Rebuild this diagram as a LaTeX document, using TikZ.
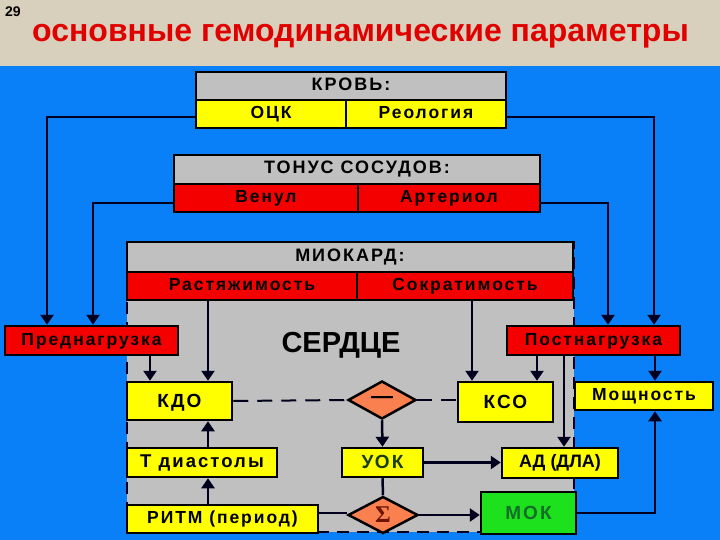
\documentclass[tikz,border=0pt]{standalone}
\usepackage{fontspec}
\setmainfont{Liberation Sans}
\newfontfamily\sigmafont{Liberation Serif}
\newfontfamily\spacedfont[LetterSpace=11]{Liberation Sans}
\usetikzlibrary{arrows.meta,shapes.geometric}
\definecolor{beige}{RGB}{216,208,188}
\definecolor{bgblue}{RGB}{10,128,248}
\definecolor{panelgray}{RGB}{192,192,192}
\definecolor{boxyellow}{RGB}{255,255,0}
\definecolor{boxred}{RGB}{245,0,0}
\definecolor{coral}{RGB}{250,128,80}
\definecolor{mokgreen}{RGB}{30,225,30}
\definecolor{moktext}{RGB}{20,110,40}
\definecolor{uoktext}{RGB}{25,60,25}
\definecolor{titlered}{RGB}{225,0,0}
\definecolor{ink}{RGB}{0,0,30}
\definecolor{sigmared}{RGB}{110,20,0}
\tikzset{
  cell/.style={draw=black, line width=2.5pt, rectangle, inner sep=0pt,
    text height=12.6pt, text depth=3.5pt,
    font=\spacedfont\bfseries\fontsize{17.5}{17.5}\selectfont, text=black},
  bigcell/.style={cell, text height=13.6pt, text depth=0pt,
    font=\spacedfont\bfseries\fontsize{19}{19}\selectfont},
  hdr/.style={cell, fill=panelgray, text height=13pt, text depth=4pt,
    font=\spacedfont\bfseries\fontsize{18}{18}\selectfont},
  ybox/.style={cell, fill=boxyellow},
  rbox/.style={cell, fill=boxred},
  dia/.style={draw=black, line width=2.5pt, diamond, inner sep=0pt, fill=coral},
  conn/.style={draw=ink, line width=2.5pt},
  arr/.style={conn, -{Triangle[length=10pt,width=13pt]}},
  dsh/.style={draw=ink, line width=2pt, dash pattern=on 15pt off 9pt}
}
\begin{document}
\begin{tikzpicture}[x=1pt,y=-1pt]
\path[use as bounding box] (0,0) rectangle (720,540);
\fill[beige] (0,0) rectangle (720,66);
\fill[bgblue] (0,66) rectangle (720,540);
% title
\node[anchor=north west, inner sep=0pt, font=\bfseries\fontsize{14}{14}\selectfont] (num) at (5,7) {29};
\node[anchor=base, inner sep=0pt, text=titlered, font=\bfseries\fontsize{32}{32}\selectfont] (title) at (360.5,42) {основные гемодинамические параметры};
% heart panel
\path[fill=panelgray, draw=ink, line width=2pt, dash pattern=on 12pt off 8pt] (127,242) rectangle (574,532);
\node[anchor=base, inner sep=0pt, font=\bfseries\fontsize{29}{29}\selectfont] (heart) at (341,352) {СЕРДЦЕ};
% blood
\node[hdr, minimum width=310, minimum height=28] (krov) at (351,86) {КРОВЬ:};
\node[ybox, minimum width=150, minimum height=28] (ock) at (271,114) {ОЦК};
\node[ybox, minimum width=160, minimum height=28] (reol) at (426,114) {Реология};
% vessels
\node[hdr, minimum width=366, minimum height=29] (tonus) at (357,169.5) {ТОНУС СОСУДОВ:};
\node[rbox, minimum width=184, minimum height=28] (venul) at (266,198) {Венул};
\node[rbox, minimum width=182, minimum height=28] (arter) at (449,198) {Артериол};
% myocard
\node[hdr, minimum width=446, minimum height=30] (miok) at (350,257) {МИОКАРД:};
\node[rbox, minimum width=230, minimum height=28] (rast) at (242,286) {Растяжимость};
\node[rbox, minimum width=216, minimum height=28] (sokr) at (465,286) {Сократимость};
% loads
\node[rbox, minimum width=173, minimum height=29] (pred) at (91.5,340.5) {Преднагрузка};
\node[rbox, minimum width=173, minimum height=29] (post) at (593.5,340.5) {Постнагрузка};
% heart internals
\node[ybox, bigcell, minimum width=105, minimum height=38] (kdo) at (179.5,401) {КДО};
\node[ybox, minimum width=150, minimum height=29, text height=13.3pt, font=\spacedfont\bfseries\fontsize{18.5}{18.5}\selectfont] (tdiast) at (202,462.5) {Т диастолы};
\node[ybox, minimum width=191, minimum height=28] (ritm) at (222.5,519) {РИТМ (период)};
\node[dia, minimum width=68, minimum height=38] (minus) at (382,400) {\bfseries\fontsize{22}{22}\selectfont —};
\node[ybox, bigcell, text=uoktext, text depth=2pt, minimum width=81, minimum height=29] (uok) at (382.5,462.5) {УОК};
\node[dia, minimum width=70, minimum height=37] (sigma) at (383,515) {\sigmafont\bfseries\fontsize{24}{24}\selectfont\color{sigmared}Σ};
\node[ybox, bigcell, minimum width=95, minimum height=40] (kso) at (505.5,402) {КСО};
\node[ybox, minimum width=116, minimum height=30, text height=13pt, font=\bfseries\fontsize{18}{18}\selectfont] (ad) at (560,463) {АД (ДЛА)};
\node[cell, bigcell, fill=mokgreen, text=moktext, minimum width=95, minimum height=42] (mok) at (528.5,513) {МОК};
\node[ybox, minimum width=138, minimum height=28] (mosch) at (644,396) {Мощность};
% helper coordinates
\coordinate (p1) at ([xshift=-44.5]pred.north);
\coordinate (p2) at ([xshift=1.5]pred.north);
\coordinate (q1) at ([xshift=14.5]post.north);
\coordinate (q2) at ([xshift=60.5]post.north);
\coordinate (k1) at ([xshift=28.5]kdo.north);
\coordinate (k2) at ([xshift=-29.5]kdo.north);
\coordinate (s1) at ([xshift=-33.5]kso.north);
\coordinate (s2) at ([xshift=31.5]kso.north);
\coordinate (a1) at ([xshift=4]ad.north);
\coordinate (m1) at ([xshift=11]mosch.north);
% connectors from top boxes
\draw[arr] ([yshift=-3]ock.west) -| (p1);
\draw[arr] ([yshift=-5]venul.west) -| (p2);
\draw[arr] ([yshift=-3]reol.east) -| (q2);
\draw[arr] ([yshift=-5]arter.east) -| (q1);
% into KDO
\draw[arr] (k1 |- rast.south) -- (k1);
\draw[arr] (k2 |- pred.south) -- (k2);
\draw[arr] (k1 |- tdiast.north) -- (k1 |- kdo.south);
\draw[arr] (k1 |- ritm.north) -- (k1 |- tdiast.south);
% dashed difference
\draw[dsh] (kdo.east) -- (minus.west);
\draw[dsh] (minus.east) -- (minus.east -| kso.west);
% stroke volume
\draw[arr] (minus.south) -- (uok.north);
\draw[arr] (uok.east) -- (uok.east -| ad.west);
\draw[conn] (uok.south) -- (sigma.north);
\draw[conn] ([yshift=2]sigma.west) -- ([yshift=2]sigma.west -| ritm.east);
\draw[arr] (sigma.east) -- (sigma.east -| mok.west);
% into KSO
\draw[arr] (s1 |- sokr.south) -- (s1);
\draw[arr] (s2 |- post.south) -- (s2);
% afterload to AD and power
\draw[arr] (a1 |- post.south) -- (a1);
\draw[arr] (m1 |- post.south) -- (m1);
\draw[arr] (mok.east) -| (m1 |- mosch.south);
\end{tikzpicture}
\end{document}
